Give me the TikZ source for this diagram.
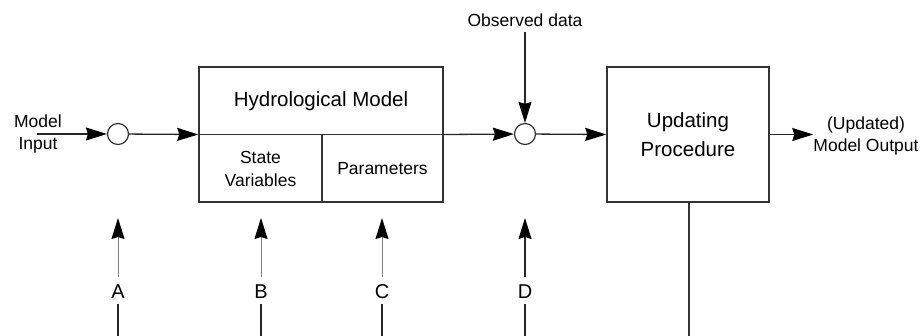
\documentclass[tikz,border=0pt]{standalone}
\usepackage{fontspec}
\setmainfont{Liberation Sans}
\usetikzlibrary{arrows.meta}
\begin{document}
\begin{tikzpicture}[x=1pt,y=-1pt,
  ln/.style={line width=1.3pt, draw=black!85},
  arr/.style={ln, -{Stealth[length=21pt,width=13pt,inset=2pt,color=black]}},
  garr/.style={line width=1pt, draw=black!50, -{Stealth[length=21pt,width=13pt,inset=2pt,color=black]}},
  boxl/.style={draw=black!80, line width=1.5pt},
  blk/.style={boxl, inner sep=0pt, minimum width=#1, minimum height=135pt},
  sumc/.style={circle, draw=black!80, line width=1.2pt, minimum size=21pt, inner sep=0pt},
  lbl/.style={font=\fontsize{17.5}{22.5}\selectfont, align=center, inner sep=0pt},
  big/.style={font=\fontsize{20.5}{29}\selectfont, align=center, inner sep=0pt},
  letr/.style={font=\fontsize{20}{24}\selectfont, inner sep=0pt}
]
\useasboundingbox (0,0) rectangle (921,336);

% input
\node[lbl] (mi) at (38,134) {Model\\Input};
\coordinate (in) at (37,134);
\node[sumc] (c1) at (118,134) {};

% hydrological model block
\node[blk=244pt] (hm) at (321,134.5) {};
\node[big] (hmt) at (321,101) {Hydrological Model};
\node[lbl] (sv) at (260.5,169) {State\\Variables};
\node[lbl] (pa) at (382.5,168.5) {Parameters};
\coordinate (vd) at (322,134.5);

% observed data and sum 2
\node[lbl] (obs) at (525,20) {Observed data};
\node[sumc] (c2) at (525,134) {};

% updating procedure
\node[blk=162pt] (up) at (688,134.5) {};
\node[big] (upt) at (688,135) {Updating\\Procedure};
\node[lbl] (out) at (866,136) {(Updated)\\Model Output};

% main signal line
\draw[arr] (in) -- (c1);
\draw[arr] (c1) -- (hm.west);
\draw[boxl] (hm.west) -- (hm.east);
\draw[boxl] (vd) -- (vd |- hm.south);
\draw[arr] (hm.east) -- (c2);
\draw[arr, shorten <=5pt] (obs.south) -- (c2);
\draw[arr] (c2) -- (up.west);
\draw[arr] (up.east) -- (up.east -| out.west);

% bottom inputs
\foreach \n/\x in {A/118,B/261,C/382,D/525}{
  \node[letr] (\n) at (\x,292) {\n};
  \coordinate (t\n) at (\x,218);
  \coordinate (b\n) at (\x,336);
  \draw[ln, shorten >=5pt] (b\n) -- (\n.south);
}
\draw[garr, shorten <=8pt] (A.north) -- (tA);
\draw[garr, shorten <=8pt] (B.north) -- (tB);
\draw[garr, shorten <=8pt] (C.north) -- (tC);
\draw[arr, shorten <=8pt] (D.north) -- (tD);

% feedback line from updating procedure
\coordinate (fb) at (689,336);
\draw[boxl] (up.south -| fb) -- (fb);
\end{tikzpicture}
\end{document}
